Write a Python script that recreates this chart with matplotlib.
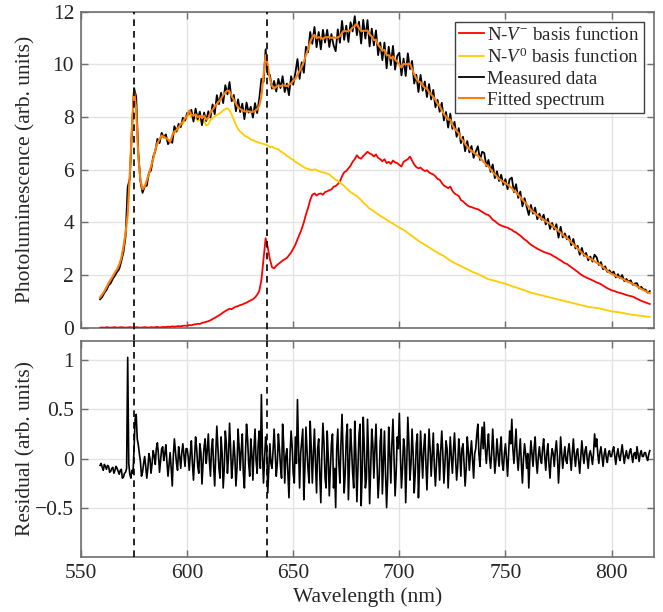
import numpy as np
import matplotlib
matplotlib.use("Agg")
import matplotlib.pyplot as plt

# ---------------- data ----------------
wl_start, wl_stop = 559, 818
wavelength = np.arange(wl_start, wl_stop + 1)  # 1 nm grid, 559..818

nv_minus = [
    0.00, 0.01, 0.00, 0.02, 0.01, 0.00, 0.01, 0.02, 0.00, 0.01,
    0.02, 0.01, 0.00, 0.01, 0.02, 0.01, 0.00, 0.02, 0.01, 0.00,
    0.01, 0.02, 0.01, 0.00, 0.02, 0.01, 0.02, 0.03, 0.01, 0.02,
    0.03, 0.02, 0.04, 0.03, 0.05, 0.04, 0.05, 0.06, 0.05, 0.07,
    0.08, 0.07, 0.10, 0.09, 0.12, 0.13, 0.15, 0.14, 0.18, 0.20,
    0.22, 0.25, 0.28, 0.33, 0.37, 0.42, 0.47, 0.52, 0.58, 0.63,
    0.68, 0.72, 0.70, 0.76, 0.80, 0.82, 0.86, 0.88, 0.92, 0.95,
    1.00, 1.04, 1.08, 1.15, 1.25, 1.40, 1.80, 2.60, 3.40, 3.05,
    2.60, 2.30, 2.25, 2.35, 2.42, 2.48, 2.55, 2.60, 2.65, 2.75,
    2.85, 3.00, 3.15, 3.35, 3.55, 3.75, 4.00, 4.30, 4.55, 4.85,
    5.05, 5.10, 5.02, 5.08, 5.10, 5.05, 5.15, 5.18, 5.22, 5.25,
    5.35, 5.38, 5.45, 5.55, 5.75, 5.90, 5.95, 6.05, 6.15, 6.30,
    6.40, 6.55, 6.45, 6.42, 6.52, 6.60, 6.68, 6.62, 6.58, 6.50,
    6.58, 6.45, 6.40, 6.32, 6.40, 6.25, 6.30, 6.22, 6.35, 6.28,
    6.25, 6.18, 6.12, 6.30, 6.35, 6.40, 6.50, 6.35, 6.20, 6.10,
    6.05, 6.08, 6.00, 5.95, 5.98, 5.90, 5.85, 5.82, 5.75, 5.65,
    5.62, 5.50, 5.40, 5.35, 5.30, 5.36, 5.20, 5.10, 5.05, 5.00,
    4.85, 4.80, 4.72, 4.65, 4.60, 4.58, 4.55, 4.52, 4.50, 4.45,
    4.40, 4.35, 4.30, 4.28, 4.20, 4.10, 4.05, 3.98, 3.92, 3.88,
    3.85, 3.82, 3.80, 3.75, 3.72, 3.65, 3.62, 3.55, 3.50, 3.42,
    3.35, 3.30, 3.22, 3.15, 3.10, 3.05, 3.00, 2.96, 2.92, 2.88,
    2.85, 2.82, 2.80, 2.75, 2.70, 2.66, 2.60, 2.56, 2.50, 2.45,
    2.42, 2.36, 2.30, 2.24, 2.18, 2.12, 2.05, 2.00, 1.95, 1.91,
    1.87, 1.84, 1.80, 1.76, 1.72, 1.69, 1.65, 1.60, 1.55, 1.50,
    1.46, 1.42, 1.40, 1.37, 1.34, 1.32, 1.30, 1.27, 1.24, 1.22,
    1.20, 1.18, 1.14, 1.10, 1.06, 1.02, 0.99, 0.96, 0.93, 0.90,
]

nv_zero = [
    1.15, 1.25, 1.38, 1.52, 1.68, 1.82, 1.94, 2.08, 2.22, 2.38,
    2.62, 3.05, 3.60, 4.30, 5.80, 7.60, 9.00, 8.30, 6.50, 5.60,
    5.25, 5.33, 5.58, 5.84, 6.10, 6.40, 6.74, 6.98, 7.14, 7.28,
    7.22, 7.18, 7.11, 7.02, 7.25, 7.41, 7.45, 7.56, 7.67, 7.75,
    7.87, 7.98, 8.15, 8.00, 7.93, 7.97, 7.85, 7.91, 7.77, 7.85,
    7.68, 7.72, 7.88, 7.95, 8.02, 8.08, 8.12, 8.18, 8.25, 8.30,
    8.33, 8.25, 8.10, 7.90, 7.70, 7.55, 7.45, 7.38, 7.30, 7.25,
    7.22, 7.15, 7.12, 7.08, 7.05, 7.02, 7.00, 6.98, 6.95, 6.92,
    6.85, 6.88, 6.82, 6.80, 6.78, 6.70, 6.65, 6.60, 6.52, 6.48,
    6.42, 6.38, 6.30, 6.25, 6.20, 6.15, 6.10, 6.05, 6.03, 6.00,
    5.98, 6.02, 5.98, 5.95, 5.92, 5.90, 5.88, 5.85, 5.82, 5.75,
    5.68, 5.62, 5.58, 5.52, 5.45, 5.38, 5.30, 5.22, 5.15, 5.10,
    5.05, 5.00, 4.92, 4.85, 4.75, 4.68, 4.60, 4.52, 4.48, 4.42,
    4.36, 4.30, 4.25, 4.20, 4.15, 4.10, 4.05, 4.00, 3.95, 3.90,
    3.85, 3.80, 3.76, 3.72, 3.66, 3.60, 3.54, 3.48, 3.42, 3.36,
    3.30, 3.24, 3.20, 3.15, 3.10, 3.05, 3.00, 2.95, 2.90, 2.85,
    2.80, 2.76, 2.72, 2.66, 2.60, 2.55, 2.50, 2.46, 2.42, 2.38,
    2.34, 2.30, 2.26, 2.22, 2.18, 2.14, 2.10, 2.07, 2.04, 2.00,
    1.96, 1.92, 1.88, 1.84, 1.82, 1.80, 1.78, 1.76, 1.73, 1.71,
    1.69, 1.67, 1.64, 1.61, 1.58, 1.55, 1.53, 1.50, 1.47, 1.44,
    1.42, 1.39, 1.36, 1.33, 1.31, 1.29, 1.27, 1.25, 1.23, 1.21,
    1.19, 1.17, 1.15, 1.13, 1.11, 1.09, 1.07, 1.05, 1.03, 1.01,
    0.99, 0.97, 0.95, 0.93, 0.91, 0.89, 0.87, 0.85, 0.83, 0.81,
    0.79, 0.78, 0.77, 0.76, 0.75, 0.74, 0.72, 0.70, 0.68, 0.66,
    0.64, 0.62, 0.61, 0.60, 0.59, 0.58, 0.56, 0.55, 0.53, 0.52,
    0.50, 0.49, 0.48, 0.47, 0.46, 0.45, 0.44, 0.43, 0.42, 0.41,
]

# residual on a 0.5 nm grid (559.0, 559.5, ..., 818.0)
residual = [
    -0.07, -0.05, -0.09, -0.12, -0.06, -0.08, -0.11, -0.07, -0.08, -0.14,
    -0.13, -0.10, -0.09, -0.15, -0.12, -0.08, -0.10, -0.13, -0.16, -0.12,
    -0.11, -0.20, -0.19, -0.15, -0.14, -0.10,
    1.03, -0.05, -0.16, -0.20, -0.12, -0.15, 0.10, 0.40, 0.45, 0.20,
    0.14, 0.05, -0.03, -0.18, -0.14, -0.05,
    0.02, -0.08, -0.20, -0.10, 0.05, 0.00, -0.15, -0.05, 0.08, 0.03,
    -0.06, 0.10, 0.16, 0.04, -0.14, -0.02, 0.10, 0.12, -0.02, 0.05,
    0.14, -0.04, -0.18, -0.06, 0.06, -0.10, -0.28, 0.02, 0.20, 0.08,
    -0.05, -0.12, 0.12, 0.02, -0.10, 0.06, 0.15, 0.03, -0.08, 0.10,
    0.10, 0.02, -0.12, 0.05, 0.18, -0.05, -0.22, 0.00, 0.22, 0.10,
    -0.08, -0.15, 0.15, 0.06, -0.26, -0.05, 0.12, 0.20, -0.05, 0.08,
    0.25, -0.02, -0.18, 0.10, 0.20, -0.08, -0.28, 0.05, 0.33, 0.12,
    -0.10, -0.20, 0.22, 0.05, -0.30, -0.10, 0.28, 0.15, -0.15, 0.02,
    0.36, 0.10, -0.20, -0.05, 0.18, 0.02, -0.28, -0.10, 0.30, 0.12,
    -0.12, 0.08, 0.25, -0.15, -0.30, 0.05, 0.35, 0.20, -0.05, -0.18,
    0.20, 0.05, -0.22, 0.10, 0.30, -0.02, -0.15, 0.15, 0.28, -0.10,
    0.65, 0.05, -0.25, 0.00, 0.22, 0.12, -0.35, -0.10, 0.15, -0.05,
    -0.10, 0.08, 0.30, 0.05, -0.18, -0.05, 0.25, 0.10, -0.08, -0.20,
    0.35, 0.15, -0.25, 0.02, 0.10, -0.15, -0.40, 0.05, 0.28, 0.12,
    -0.15, -0.25, 0.22, -0.05, 0.60, 0.10, -0.30, 0.05, 0.18, 0.30,
    -0.42, -0.10, 0.32, 0.08, -0.12, -0.25, 0.38, 0.10, -0.25, 0.05,
    0.30, -0.05, -0.35, 0.10, 0.20, -0.15, -0.45, 0.05, 0.36, 0.15,
    -0.20, -0.30, 0.28, 0.02, -0.38, -0.10, 0.15, 0.25, -0.30, -0.10,
    -0.50, 0.10, 0.30, -0.05, -0.25, 0.15, 0.45, 0.05, -0.35, -0.15,
    0.22, 0.35, -0.42, -0.05, 0.30, 0.10, -0.15, -0.30, 0.38, 0.05,
    -0.44, -0.10, 0.25, 0.35, -0.48, -0.15, 0.42, 0.10, -0.30, -0.20,
    0.40, 0.05, -0.46, -0.10, 0.30, 0.15, -0.20, 0.10, 0.35, -0.05,
    -0.40, -0.20, 0.18, 0.30, -0.36, -0.05, 0.28, -0.15, -0.50, -0.20,
    0.32, 0.05, -0.25, 0.15, 0.40, 0.00, -0.38, -0.15, 0.22, 0.10,
    0.46, 0.05, -0.30, -0.10, 0.20, 0.10, -0.45, -0.05, 0.42, 0.15,
    -0.22, -0.05, 0.30, 0.05, -0.35, -0.15, 0.15, 0.25, -0.40, -0.10,
    0.28, 0.05, -0.20, 0.10, 0.25, -0.05, -0.32, 0.00, 0.30, 0.10,
    -0.18, 0.05, 0.26, -0.08, -0.28, -0.05, 0.15, 0.05, -0.22, 0.08,
    0.28, 0.05, -0.25, -0.05, 0.18, 0.10, -0.30, -0.05, 0.22, 0.02,
    -0.15, 0.08, 0.26, 0.00, -0.22, -0.08, 0.20, 0.05, -0.18, 0.10,
    0.15, -0.05, -0.28, -0.10, 0.22, 0.08, -0.12, 0.05, 0.18, -0.02,
    -0.20, 0.05, 0.10, 0.25, 0.35, 0.05, -0.08, 0.15, 0.32, 0.10,
    0.37, 0.10, -0.05, 0.12, 0.25, 0.02, -0.10, 0.05, 0.30, 0.08,
    -0.15, -0.02, 0.20, 0.05, -0.08, 0.10, 0.22, -0.05, -0.12, 0.05,
    0.15, 0.00, -0.18, 0.05, 0.28, 0.15, 0.40, 0.10, -0.05, 0.12,
    0.30, 0.02, -0.12, 0.05, 0.20, -0.05, -0.25, 0.00, 0.15, 0.05,
    -0.10, 0.05, -0.30, -0.02, 0.18, 0.05, -0.08, 0.10, 0.22, -0.02,
    -0.15, 0.02, 0.12, 0.00, -0.05, 0.10, 0.20, 0.02, -0.12, 0.05,
    0.15, -0.05, -0.20, 0.00, 0.10, 0.05, -0.08, 0.08, 0.18, 0.02,
    -0.25, -0.05, 0.22, 0.05, -0.10, 0.02, 0.12, -0.02, -0.05, 0.08,
    0.15, 0.02, -0.12, 0.05, 0.20, 0.03, -0.08, 0.06, 0.10, -0.02,
    -0.15, 0.02, 0.18, 0.05, -0.05, 0.08, 0.12, 0.00, -0.10, 0.04,
    0.08, 0.02, -0.06, 0.05, 0.25, 0.12, 0.20, 0.05, -0.05, 0.06,
    0.12, 0.02, -0.08, 0.04, 0.10, 0.01, -0.04, 0.05, 0.08, 0.02,
    0.02, 0.08, 0.12, 0.03, -0.06, 0.04, 0.10, 0.02, -0.02, 0.06,
    0.14, 0.04, -0.05, 0.03, 0.08, 0.01, 0.00, 0.07, 0.10, 0.03,
    -0.04, 0.05, 0.06, 0.00, 0.12, 0.04, -0.03, 0.05, 0.08, 0.02,
    0.02, 0.06, 0.06, 0.01, -0.02, 0.04, 0.08,
]
residual_step = 0.5

zpl_lines = [575, 637.7]  # NV0 and NV- zero-phonon lines (nm)

labels = [r"N-$V^{-}$ basis function", r"N-$V^{0}$ basis function",
          "Measured data", "Fitted spectrum"]

# ---------------- derived series ----------------
nv_minus = np.array(nv_minus)
nv_zero = np.array(nv_zero)
residual = np.array(residual)
res_wl = wl_start + residual_step * np.arange(len(residual))
fitted = nv_minus + nv_zero
res_on_grid = residual[::int(round(1 / residual_step))][:len(fitted)]
measured = fitted + res_on_grid

# ---------------- style ----------------
plt.rcParams["font.family"] = ["Liberation Serif", "DejaVu Serif"]
plt.rcParams["mathtext.fontset"] = "custom"
plt.rcParams["mathtext.rm"] = "Liberation Serif"
plt.rcParams["mathtext.it"] = "Liberation Serif:italic"
FS = 15.5
FS_LEG = 13.6
spine_c = "#6e6e6e"
text_c = "#262626"
grid_c = "#e3e3e3"

fig = plt.figure(figsize=(6.63, 6.12), dpi=100)
left, right = 81 / 663, 654 / 663
ax1 = fig.add_axes([left, 1 - 327.7 / 612, right - left, (327.7 - 11.7) / 612])
ax2 = fig.add_axes([left, 1 - 556.7 / 612, right - left, (556.7 - 340.7) / 612])

c_red = "#ff0000"
c_yel = "#ffcc00"
c_blk = "#000000"
c_org = "#ff7f0e"

ax1.plot(wavelength, nv_minus, color=c_red, lw=1.3, label=labels[0], zorder=3)
ax1.plot(wavelength, nv_zero, color=c_yel, lw=1.3, label=labels[1], zorder=3)
ax1.plot(wavelength, measured, color=c_blk, lw=1.3, label=labels[2], zorder=4)
ax1.plot(wavelength, fitted, color=c_org, lw=1.5, label=labels[3], zorder=5)

ax2.plot(res_wl, residual, color=c_blk, lw=1.2, zorder=4)

for ax in (ax1, ax2):
    ax.set_xlim(550, 820)
    ax.set_xticks([550, 600, 650, 700, 750, 800])
    ax.grid(True, color=grid_c, lw=1.0, zorder=0)
    ax.set_axisbelow(True)
    ax.tick_params(direction="in", length=5, width=1.0, color=spine_c,
                   labelcolor=text_c, labelsize=FS, top=True, right=True,
                   pad=5)
    for s in ax.spines.values():
        s.set_color(spine_c)
        s.set_linewidth(1.2)

ax1.set_ylim(0, 12)
ax1.set_yticks([0, 2, 4, 6, 8, 10, 12])
ax1.tick_params(labelbottom=False)
ax1.set_ylabel("Photoluminescence (arb. units)", fontsize=FS, color=text_c)

ax2.set_ylim(-1, 1.2)
ax2.set_yticks([-0.5, 0, 0.5, 1])
ax2.set_yticklabels(["\u22120.5", "0", "0.5", "1"])
ax2.set_ylabel("Residual (arb. units)", fontsize=FS, color=text_c)
ax2.set_xlabel("Wavelength (nm)", fontsize=FS, color=text_c, labelpad=3)

ax1.yaxis.set_label_coords(-0.08, 0.5)
ax2.yaxis.set_label_coords(-0.08, 0.5)

# dashed zero-phonon-line markers spanning both panels
gap = (340.7 - 327.7) / (327.7 - 11.7)
for x in zpl_lines:
    ax1.axvline(x, ymin=-gap, ymax=1, color="k", ls=(0, (4, 3)), lw=1.2,
                clip_on=False, zorder=6)
    ax2.axvline(x, ymin=0, ymax=1, color="k", ls=(0, (4, 3)), lw=1.2,
                zorder=6)

leg = ax1.legend(loc="upper right", fontsize=FS_LEG, frameon=True,
                 fancybox=False, edgecolor="#404040", framealpha=1,
                 borderaxespad=0.55, handlelength=1.3, handletextpad=0.2,
                 labelspacing=0.2, borderpad=0.2)
leg.get_frame().set_linewidth(1.0)
for t in leg.get_texts():
    t.set_color(text_c)

fig.savefig("out.png", dpi=100)
